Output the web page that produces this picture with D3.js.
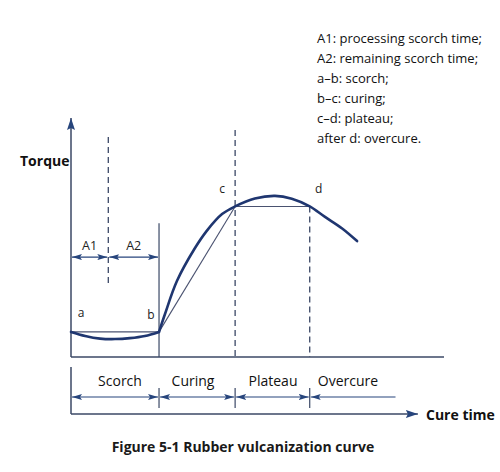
<!DOCTYPE html>
<html>
<head>
<meta charset="utf-8">
<script src="https://cdn.jsdelivr.net/npm/d3@7"></script>
<style>
  body { margin: 0; background: #fff; }
  svg { display: block; font-family: 'Open Sans', sans-serif; }
</style>
</head>
<body>
<svg id="chart"></svg>
<script>
// cure time (0-100) and torque (0-100)
const scorchTime = [0, 3.8, 7.8, 11.8, 15.8, 19.8, 23.6];
const scorchTorque = [10.5, 8.8, 7.7, 7.5, 7.9, 8.8, 10.5];
const cureTime = [23.6, 25.2, 28.4, 33.2, 36.5, 40.5, 44, 49.3, 54.7, 59.2, 64, 68.1, 72.7, 76.7];
const cureTorque = [10.5, 18, 31.8, 45.5, 53, 59.8, 63, 66.3, 67.4, 66.2, 63, 58.6, 53.8, 48.5];
const pointNames = ['a', 'b', 'c', 'd'];
const pointTimes = [0, 23.6, 44, 64];
const pointTorques = [10.5, 10.5, 63, 63];
const stageNames = ['Scorch', 'Curing', 'Plateau', 'Overcure'];
const stageBounds = [0, 23.6, 44, 64, 87];
const a1End = 10;
const legendLines = [
  'A1: processing scorch time;',
  'A2: remaining scorch time;',
  'a\u2013b: scorch;',
  'b\u2013c: curing;',
  'c\u2013d: plateau;',
  'after d: overcure.'
];

const width = 500;
const height = 472;
const lineColor = '#3b4866';
const arrowColor = '#27457c';
const curveColor = '#1f3670';

const svg = d3.select('#chart')
  .attr('width', width)
  .attr('height', height);

const x = d3.scaleLinear().domain([0, 100]).range([71, 444]);
const y = d3.scaleLinear().domain([0, 100]).range([357, 118]);

const defs = svg.append('defs');
const markers = [
  { id: 'end', len: 10, half: 3 },
  { id: 'start', len: 10, half: 3 },
  { id: 'big', len: 12, half: 4 }
];
markers.forEach(m => {
  const fwd = m.id !== 'start';
  const L = m.len;
  const H = m.half;
  defs.append('marker')
    .attr('id', `arrow-${m.id}`)
    .attr('viewBox', `0 0 ${L} ${2 * H}`)
    .attr('refX', fwd ? L : 0)
    .attr('refY', H)
    .attr('markerWidth', L)
    .attr('markerHeight', 2 * H)
    .attr('markerUnits', 'userSpaceOnUse')
    .attr('orient', 'auto')
    .append('path')
    .attr('d', fwd
      ? `M0,0L${L},${H}L0,${2 * H}L2,${H}Z`
      : `M${L},0L0,${H}L${L},${2 * H}L${L - 2},${H}Z`)
    .attr('fill', arrowColor);
});

// torque axis
svg.append('line')
  .attr('x1', x(0)).attr('x2', x(0))
  .attr('y1', y(0)).attr('y2', y(100))
  .attr('stroke', lineColor)
  .attr('stroke-width', 1.5)
  .attr('marker-end', 'url(#arrow-big)');

// time axis of the plot
svg.append('line')
  .attr('x1', x(0)).attr('x2', x(100))
  .attr('y1', y(0)).attr('y2', y(0))
  .attr('stroke', lineColor)
  .attr('stroke-width', 1.5);

svg.append('text')
  .attr('x', 20)
  .attr('y', 166)
  .attr('font-size', 14)
  .attr('font-weight', 'bold')
  .attr('fill', '#111')
  .text('Torque');

// dashed guides
const dash = [
  { t: a1End, top: 92, bottom: 31 },
  { t: pointTimes[2], top: 95, bottom: 0 },
  { t: pointTimes[3], top: 63, bottom: 0 }
];
svg.selectAll('.guide')
  .data(dash)
  .enter().append('line')
  .attr('class', 'guide')
  .attr('x1', d => x(d.t)).attr('x2', d => x(d.t))
  .attr('y1', d => y(d.top)).attr('y2', d => y(d.bottom))
  .attr('stroke', lineColor)
  .attr('stroke-width', 1.3)
  .attr('stroke-dasharray', '6,4');

// solid line at b
svg.append('line')
  .attr('x1', x(pointTimes[1])).attr('x2', x(pointTimes[1]))
  .attr('y1', y(56)).attr('y2', y(0))
  .attr('stroke', lineColor)
  .attr('stroke-width', 1.2);

// A1 / A2 arrows
const aSpans = [[0, a1End, 'A1'], [a1End, pointTimes[1], 'A2']];
svg.selectAll('.aspan')
  .data(aSpans)
  .enter().append('line')
  .attr('class', 'aspan')
  .attr('x1', d => x(d[0]) + 1).attr('x2', d => x(d[1]) - 1)
  .attr('y1', y(41.8)).attr('y2', y(41.8))
  .attr('stroke', arrowColor)
  .attr('stroke-width', 1.2)
  .attr('marker-start', 'url(#arrow-start)')
  .attr('marker-end', 'url(#arrow-end)');
svg.selectAll('.alabel')
  .data(aSpans)
  .enter().append('text')
  .attr('class', 'alabel')
  .attr('x', d => (x(d[0]) + x(d[1])) / 2)
  .attr('y', 250)
  .attr('text-anchor', 'middle')
  .attr('font-size', 12.5)
  .attr('fill', '#222')
  .text(d => d[2]);

// chord lines a-b, b-c, c-d
const chords = [[0, 1], [1, 2], [2, 3]];
svg.selectAll('.chord')
  .data(chords)
  .enter().append('line')
  .attr('class', 'chord')
  .attr('x1', d => x(pointTimes[d[0]])).attr('y1', d => y(pointTorques[d[0]]))
  .attr('x2', d => x(pointTimes[d[1]])).attr('y2', d => y(pointTorques[d[1]]))
  .attr('stroke', '#4a5270')
  .attr('stroke-width', 1.1);

// vulcanization curve
const curve = d3.line()
  .x(d => x(d[0]))
  .y(d => y(d[1]))
  .curve(d3.curveCatmullRom.alpha(0.5));
[d3.zip(scorchTime, scorchTorque), d3.zip(cureTime, cureTorque)].forEach(pts => {
  svg.append('path')
    .datum(pts)
    .attr('fill', 'none')
    .attr('stroke', curveColor)
    .attr('stroke-width', 2.6)
    .attr('stroke-linecap', 'round')
    .attr('stroke-linejoin', 'round')
    .attr('d', curve);
});

const labelOffsets = [[10, -15], [-8, -13], [-13, -13], [9, -13]];
svg.selectAll('.plabel')
  .data(pointNames)
  .enter().append('text')
  .attr('class', 'plabel')
  .attr('x', (d, i) => x(pointTimes[i]) + labelOffsets[i][0])
  .attr('y', (d, i) => y(pointTorques[i]) + labelOffsets[i][1])
  .attr('text-anchor', 'middle')
  .attr('font-size', 12)
  .attr('fill', '#222')
  .text(d => d);

// legend text
svg.append('g')
  .selectAll('text')
  .data(legendLines)
  .enter().append('text')
  .attr('x', 317)
  .attr('y', (d, i) => 43 + i * 20)
  .attr('font-size', 13)
  .attr('fill', '#111')
  .text(d => d);

// stage bar below the plot
const barTop = 367;
const barArrowY = 397;
const barAxisY = 414;
svg.append('line')
  .attr('x1', x(0)).attr('x2', x(0))
  .attr('y1', barTop).attr('y2', barAxisY)
  .attr('stroke', lineColor)
  .attr('stroke-width', 1.5);
svg.append('line')
  .attr('x1', x(0)).attr('x2', x(93))
  .attr('y1', barAxisY).attr('y2', barAxisY)
  .attr('stroke', lineColor)
  .attr('stroke-width', 1.5)
  .attr('marker-end', 'url(#arrow-big)');
svg.append('text')
  .attr('x', 426)
  .attr('y', 420)
  .attr('font-size', 14)
  .attr('font-weight', 'bold')
  .attr('fill', '#111')
  .text('Cure time');

svg.selectAll('.stick')
  .data(stageBounds.slice(1, 4))
  .enter().append('line')
  .attr('class', 'stick')
  .attr('x1', d => x(d)).attr('x2', d => x(d))
  .attr('y1', 388).attr('y2', 408)
  .attr('stroke', lineColor)
  .attr('stroke-width', 1.2);

svg.selectAll('.stage')
  .data(stageNames)
  .enter().append('line')
  .attr('class', 'stage')
  .attr('x1', (d, i) => x(stageBounds[i]) + 1)
  .attr('x2', (d, i) => x(stageBounds[i + 1]) - (i < 3 ? 1 : 0))
  .attr('y1', barArrowY).attr('y2', barArrowY)
  .attr('stroke', arrowColor)
  .attr('stroke-width', 1.2)
  .attr('marker-start', 'url(#arrow-start)')
  .attr('marker-end', (d, i) => i < 3 ? 'url(#arrow-end)' : null);

svg.selectAll('.stagelabel')
  .data(stageNames)
  .enter().append('text')
  .attr('class', 'stagelabel')
  .attr('x', (d, i) => [120, 193, 273, 348][i])
  .attr('y', 386)
  .attr('text-anchor', 'middle')
  .attr('font-size', 14)
  .attr('fill', '#111')
  .text(d => d);

svg.append('text')
  .attr('x', 243)
  .attr('y', 452)
  .attr('text-anchor', 'middle')
  .attr('font-size', 14)
  .attr('font-weight', 'bold')
  .attr('fill', '#1a1a1a')
  .text('Figure 5-1 Rubber vulcanization curve');
</script>
</body>
</html>
